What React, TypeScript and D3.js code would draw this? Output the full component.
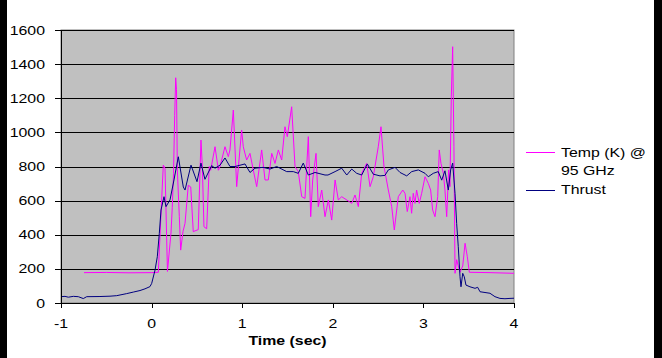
import React from "react";
import * as d3 from "d3";

const xTicks = [-1, 0, 1, 2, 3, 4];
const yTicks = [0, 200, 400, 600, 800, 1000, 1200, 1400, 1600];
const seriesNames = ["Temp (K) @", "95 GHz", "Thrust"];
const xTitle = "Time (sec)";

// [time (sec), value]
const tempData: [number, number][] = [
  [-0.746, 178], [-0.5, 179], [-0.25, 177], [0.0, 178], [0.074, 180], [0.129, 808], [0.148, 790],
  [0.175, 185], [0.214, 410], [0.228, 560], [0.242, 760], [0.255, 1100], [0.266, 1320], [0.275, 1250],
  [0.284, 780], [0.306, 506], [0.321, 310], [0.347, 420], [0.369, 467], [0.405, 690], [0.432, 680],
  [0.46, 418], [0.49, 425], [0.515, 430], [0.545, 955], [0.56, 800], [0.578, 447], [0.608, 435],
  [0.636, 800], [0.652, 778], [0.7, 916], [0.737, 778], [0.755, 800], [0.81, 916], [0.847, 858],
  [0.865, 897], [0.902, 1131], [0.939, 682], [0.994, 1014], [1.012, 916], [1.049, 838], [1.086, 877],
  [1.122, 780], [1.16, 682], [1.215, 897], [1.252, 721], [1.288, 721], [1.326, 877], [1.362, 818],
  [1.399, 897], [1.436, 838], [1.472, 1033], [1.498, 975], [1.546, 1150], [1.583, 800], [1.619, 770],
  [1.657, 623], [1.693, 613], [1.73, 975], [1.756, 506], [1.778, 721], [1.815, 877], [1.84, 565],
  [1.878, 662], [1.914, 506], [1.951, 604], [1.988, 486], [2.025, 721], [2.061, 604], [2.098, 623],
  [2.154, 604], [2.209, 584], [2.245, 633], [2.282, 565], [2.319, 760], [2.374, 818], [2.411, 682],
  [2.447, 740], [2.502, 916], [2.532, 1033], [2.565, 800], [2.613, 662], [2.65, 565], [2.679, 428],
  [2.723, 623], [2.772, 662], [2.797, 643], [2.822, 536], [2.852, 623], [2.87, 526], [2.888, 643],
  [2.907, 584], [2.925, 662], [2.954, 584], [2.981, 643], [3.018, 740], [3.054, 701], [3.08, 662],
  [3.102, 545], [3.128, 506], [3.158, 623], [3.175, 897], [3.194, 818], [3.22, 760], [3.238, 662],
  [3.257, 506], [3.279, 780], [3.293, 682], [3.308, 1209], [3.323, 1502], [3.337, 916], [3.349, 174],
  [3.367, 254], [3.385, 217], [3.404, 180], [3.434, 217], [3.46, 350], [3.485, 271], [3.507, 180],
  [3.735, 178], [4.0, 174],
];

const thrustData: [number, number][] = [
  [-1.0, 37], [-0.956, 39], [-0.919, 34], [-0.864, 39], [-0.809, 37], [-0.754, 26], [-0.716, 37],
  [-0.57, 38], [-0.459, 40], [-0.385, 43], [-0.275, 55], [-0.202, 64], [-0.128, 73], [-0.073, 83],
  [-0.018, 96], [0.001, 115], [0.038, 193], [0.063, 271], [0.085, 408], [0.104, 545], [0.137, 623],
  [0.159, 565], [0.203, 604], [0.247, 721], [0.295, 857], [0.35, 680], [0.369, 662], [0.435, 808],
  [0.501, 711], [0.545, 820], [0.589, 725], [0.663, 805], [0.7, 790], [0.755, 808], [0.81, 850],
  [0.865, 800], [0.921, 800], [1.031, 815], [1.086, 765], [1.141, 790], [1.23, 795], [1.307, 785],
  [1.381, 800], [1.491, 770], [1.564, 770], [1.619, 760], [1.674, 820], [1.73, 750], [1.804, 765],
  [1.914, 750], [1.947, 750], [2.025, 770], [2.098, 790], [2.154, 750], [2.209, 785], [2.264, 760],
  [2.319, 750], [2.381, 815], [2.447, 755], [2.521, 745], [2.576, 748], [2.613, 780], [2.687, 795],
  [2.742, 765], [2.816, 745], [2.871, 770], [2.944, 780], [3.018, 760], [3.054, 740], [3.109, 760],
  [3.164, 770], [3.202, 720], [3.238, 775], [3.275, 662], [3.301, 780], [3.323, 820], [3.349, 643],
  [3.367, 467], [3.385, 330], [3.404, 154], [3.415, 95], [3.434, 174], [3.451, 154], [3.47, 105],
  [3.514, 95], [3.57, 86], [3.599, 92], [3.625, 66], [3.735, 57], [3.79, 37], [3.845, 27],
  [3.9, 25], [3.956, 27], [4.0, 28],
];

const W = 662;
const H = 358;
const FONT = "'Liberation Sans', Arial, sans-serif";
const SX = 1.27;

function Txt(props: { x: number; y: number; anchor?: string; bold?: boolean; children: React.ReactNode }) {
  return (
    <text
      transform={`translate(${props.x},${props.y}) scale(${SX},1)`}
      textAnchor={props.anchor || "start"}
      fontFamily={FONT}
      fontSize={12.5}
      fontWeight={props.bold ? "bold" : "normal"}
      fill="#000"
    >
      {props.children}
    </text>
  );
}

export default function App() {
  const x = d3.scaleLinear().domain([-1, 4]).range([61, 514]);
  const y = d3.scaleLinear().domain([0, 1600]).range([303, 30]);
  const line = d3
    .line<[number, number]>()
    .x((d) => x(d[0]))
    .y((d) => y(d[1]));

  const x0 = x(-1);
  const x1 = x(4);
  const y0 = y(0);
  const y1 = y(1600);

  return (
    <svg
      width={W}
      height={H}
      style={{ position: "absolute", left: 0, top: 0, display: "block" }}
    >
      <rect x={0} y={0} width={W} height={H} fill="#000" />
      <rect x={7} y={0} width={647} height={H} fill="#fff" />
      <rect x={x0} y={y1} width={x1 - x0} height={y0 - y1} fill="#c0c0c0" stroke="#808080" strokeWidth={1} />
      {yTicks.filter((t) => t > 0).map((t) => (
        <line key={"g" + t} x1={x0} x2={x1} y1={Math.round(y(t)) + 0.5} y2={Math.round(y(t)) + 0.5} stroke="#000" strokeWidth={1} />
      ))}
      <path d={line(tempData) || ""} fill="none" stroke="#ff00ff" strokeWidth={1} strokeLinejoin="round" />
      <path d={line(thrustData) || ""} fill="none" stroke="#000080" strokeWidth={1} strokeLinejoin="round" />
      <line x1={x0 + 0.5} x2={x0 + 0.5} y1={y1} y2={y0} stroke="#000" />
      <line x1={x0} x2={x1} y1={y0 + 0.5} y2={y0 + 0.5} stroke="#000" />
      {yTicks.map((t) => (
        <g key={"y" + t}>
          <line x1={x0 - 6} x2={x0} y1={Math.round(y(t)) + 0.5} y2={Math.round(y(t)) + 0.5} stroke="#000" />
          <Txt x={45} y={y(t) + 4.5} anchor="end">{t}</Txt>
        </g>
      ))}
      {xTicks.map((t) => (
        <g key={"x" + t}>
          <line x1={Math.round(x(t)) + 0.5} x2={Math.round(x(t)) + 0.5} y1={y0} y2={y0 + 5} stroke="#000" />
          <Txt x={x(t)} y={328} anchor="middle">{t}</Txt>
        </g>
      ))}
      <Txt x={(x0 + x1) / 2} y={345} anchor="middle" bold>{xTitle}</Txt>
      <line x1={526} x2={555} y1={152.5} y2={152.5} stroke="#ff00ff" />
      <Txt x={561} y={157}>{seriesNames[0]}</Txt>
      <Txt x={561} y={175}>{seriesNames[1]}</Txt>
      <line x1={526} x2={555} y1={190.5} y2={190.5} stroke="#000080" />
      <Txt x={561} y={194}>{seriesNames[2]}</Txt>
    </svg>
  );
}
